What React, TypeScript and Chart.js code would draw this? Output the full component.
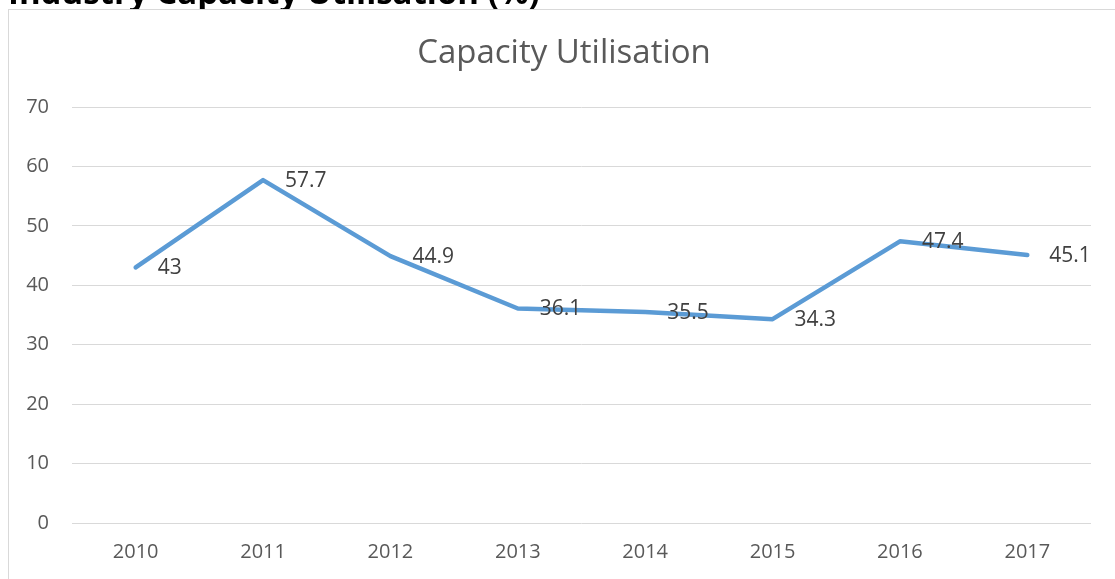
import React, { useEffect, useRef } from "react";
import { Chart, registerables } from "chart.js";

Chart.register(...registerables);

const pageTitle = "Industry Capacity Utilisation (%)";
const chartTitle = "Capacity Utilisation";
const years = ["2010", "2011", "2012", "2013", "2014", "2015", "2016", "2017"];
const utilisation = [43, 57.7, 44.9, 36.1, 35.5, 34.3, 47.4, 45.1];
const yTicks = { min: 0, max: 70, step: 10 };

const FONT = "'Open Sans', sans-serif";

const labelPlugin = {
  id: "valueLabels",
  afterDatasetsDraw(chart: any) {
    const ctx = chart.ctx;
    const meta = chart.getDatasetMeta(0);
    ctx.save();
    ctx.font = `21px ${FONT}`;
    ctx.fillStyle = "#404040";
    ctx.textAlign = "left";
    ctx.textBaseline = "middle";
    meta.data.forEach((pt: any, i: number) => {
      ctx.fillText(String(utilisation[i]), pt.x + 22, pt.y + 1);
    });
    ctx.restore();
  },
};

const titlePlugin = {
  id: "centredTitle",
  afterDraw(chart: any) {
    const ctx = chart.ctx;
    ctx.save();
    ctx.font = `33px ${FONT}`;
    ctx.fillStyle = "#595959";
    ctx.textAlign = "center";
    ctx.textBaseline = "middle";
    ctx.fillText(chartTitle, chart.width / 2 + 2, 43.8);
    ctx.restore();
  },
};

export default function App() {
  const ref = useRef<HTMLCanvasElement>(null);
  useEffect(() => {
    if (!ref.current) return;
    const chart = new Chart(ref.current, {
      type: "line",
      data: {
        labels: years,
        datasets: [
          {
            data: utilisation,
            borderColor: "#5b9bd5",
            borderWidth: 4.5,
            borderCapStyle: "round",
            borderJoinStyle: "round",
            pointRadius: 0,
            tension: 0,
            fill: false,
          },
        ],
      },
      options: {
        animation: false,
        responsive: false,
        maintainAspectRatio: false,
        layout: { padding: { left: 0, right: 24, top: 97, bottom: 15 } },
        plugins: {
          legend: { display: false },
          tooltip: { enabled: false },
          title: { display: false },
        },
        scales: {
          x: {
            offset: true,
            afterFit: (s: any) => {
              s.height = 41;
            },
            grid: { display: false, drawTicks: false },
            border: { display: false },
            ticks: {
              color: "#595959",
              font: { family: FONT, size: 20 },
              padding: 17,
              maxRotation: 0,
            },
          },
          y: {
            min: yTicks.min,
            max: yTicks.max,
            afterFit: (s: any) => {
              s.width = 63;
            },
            grid: { color: "#d9d9d9", lineWidth: 1, drawTicks: false },
            border: { display: false },
            ticks: {
              stepSize: yTicks.step,
              color: "#595959",
              font: { family: FONT, size: 20 },
              padding: 23,
            },
          },
        },
      },
      plugins: [labelPlugin, titlePlugin],
    } as any);
    return () => chart.destroy();
  }, []);

  return (
    <div>
      <div
        style={{
          position: "fixed",
          left: 8,
          top: -25,
          fontFamily: FONT,
          fontWeight: 700,
          fontSize: 33,
          lineHeight: "33px",
          color: "#000",
          whiteSpace: "nowrap",
        }}
      >
        {pageTitle}
      </div>
      <div
        style={{
          position: "fixed",
          left: 8,
          top: 9,
          width: 1107,
          height: 570,
          borderLeft: "1px solid #d9d9d9",
          borderTop: "1px solid #d9d9d9",
          boxSizing: "border-box",
          background: "#fff",
        }}
      >
        <canvas ref={ref} width={1106} height={569} style={{ display: "block" }} />
      </div>
    </div>
  );
}
